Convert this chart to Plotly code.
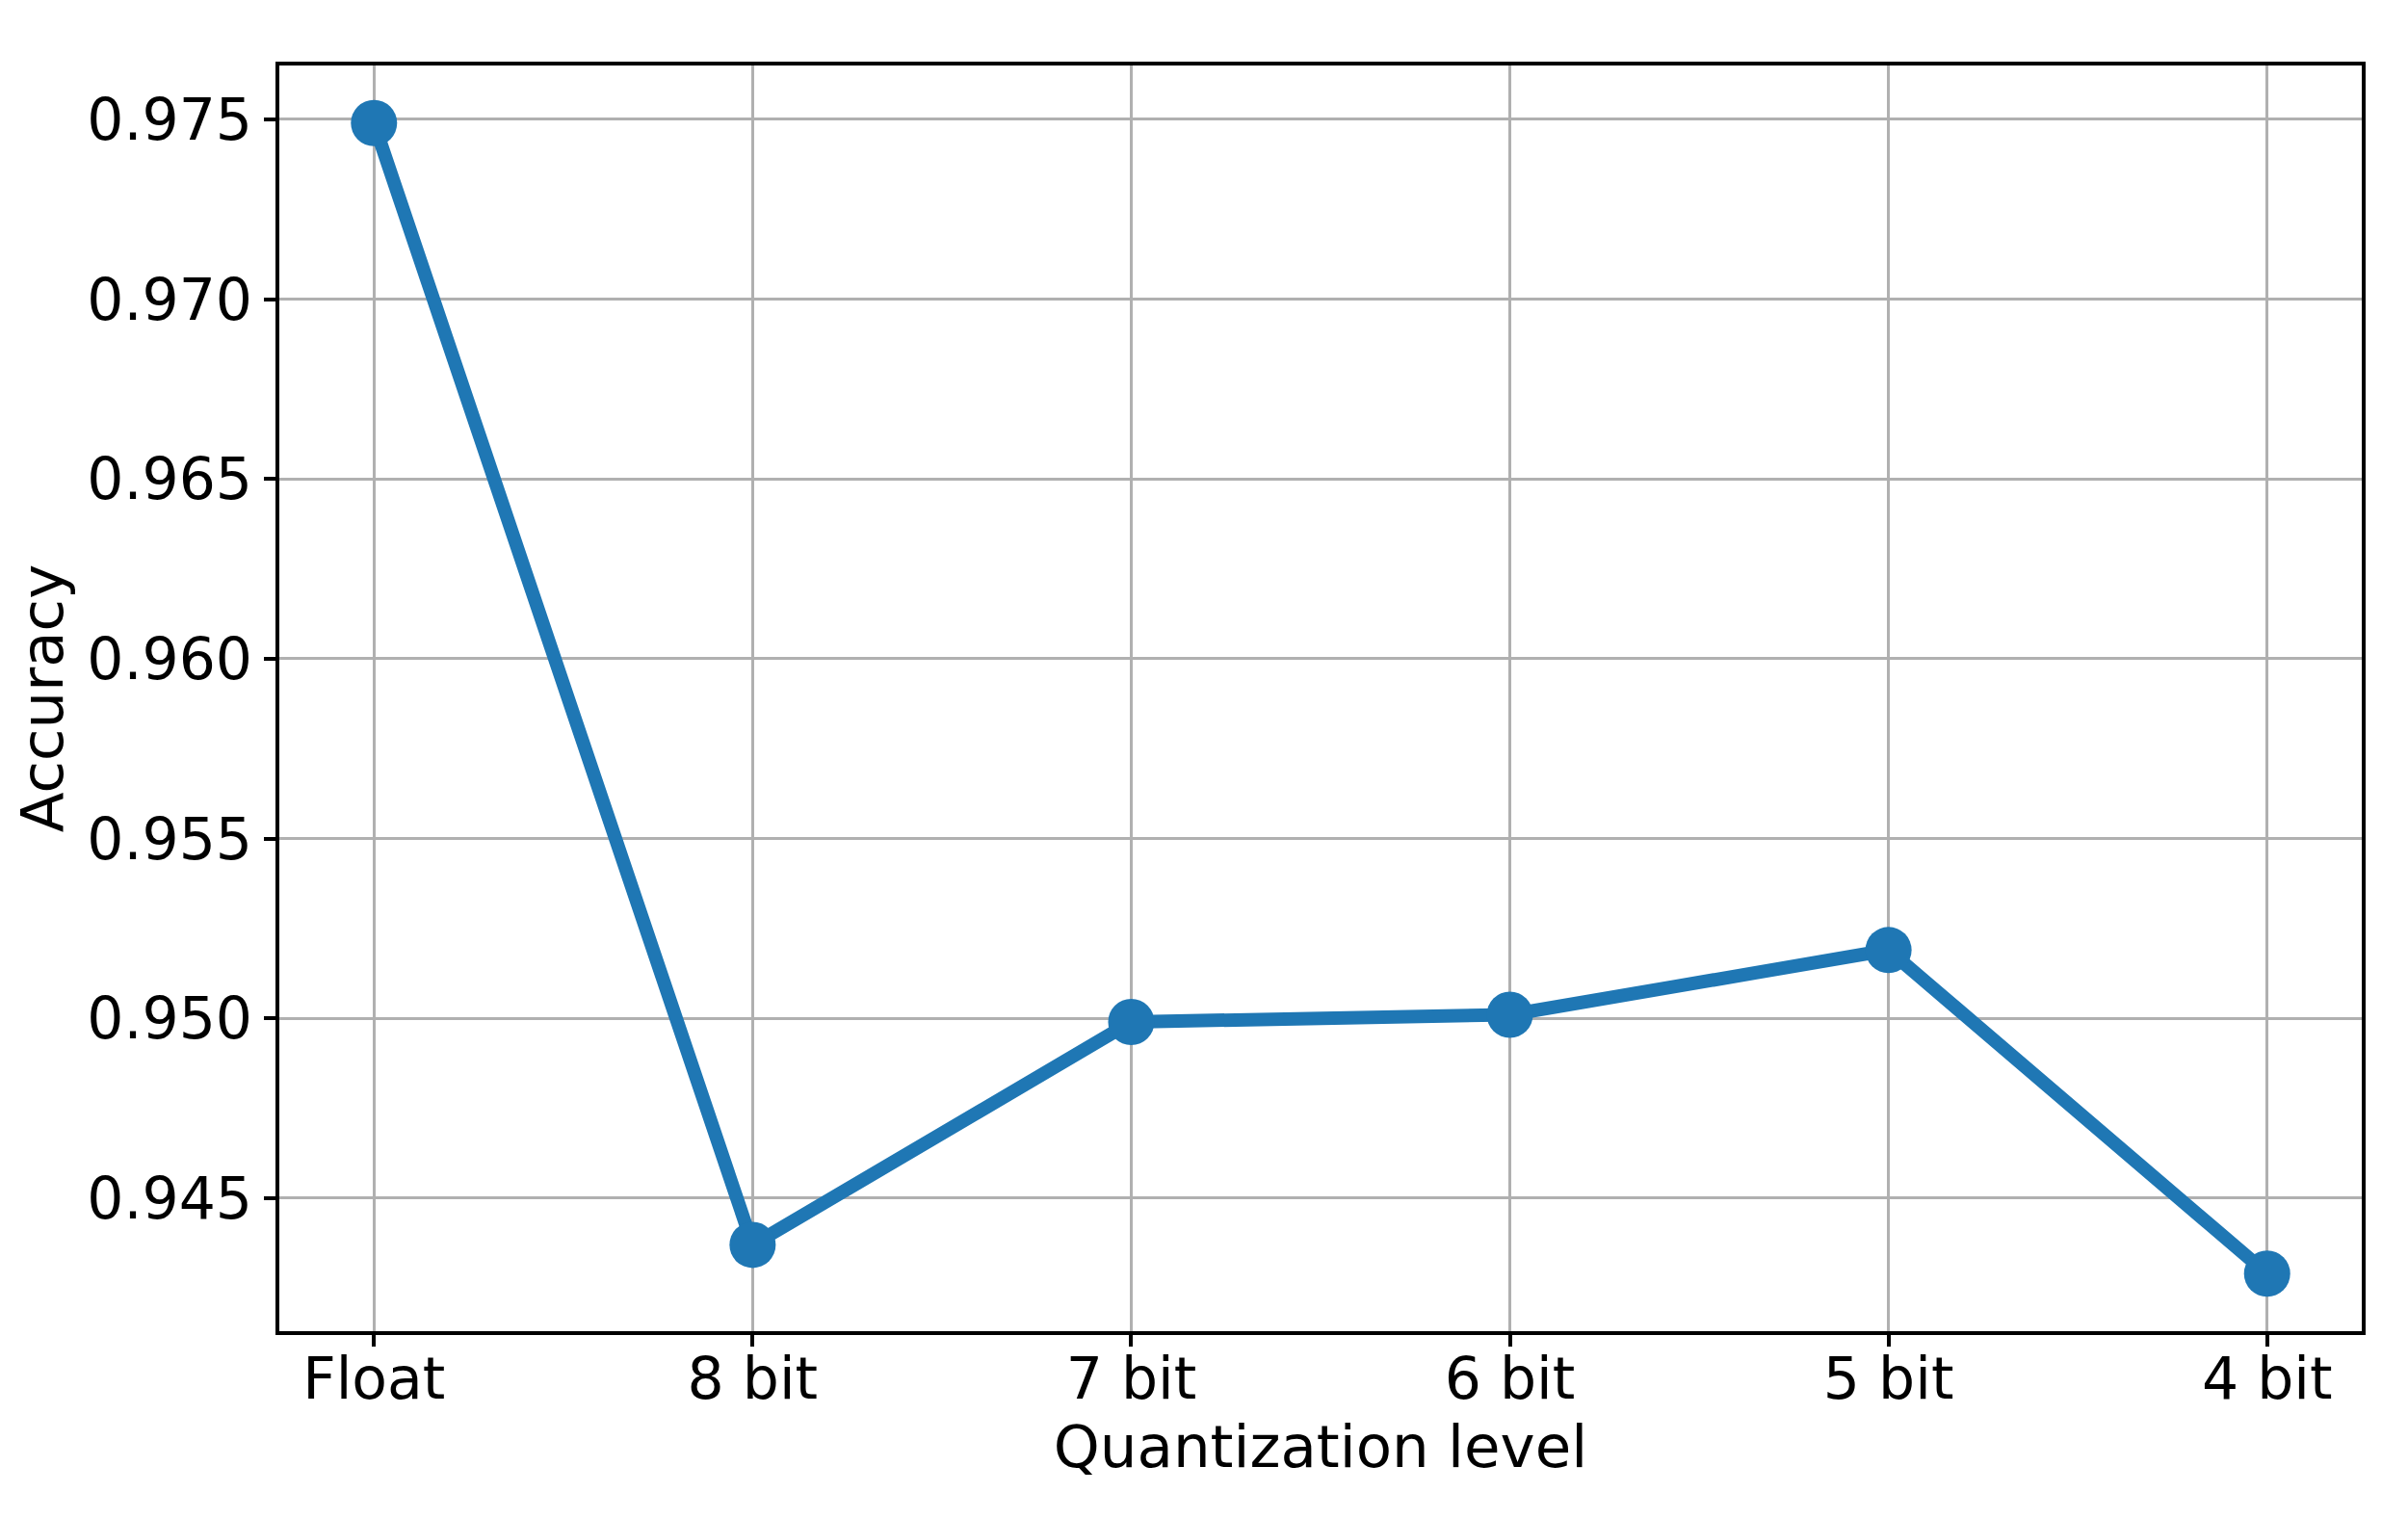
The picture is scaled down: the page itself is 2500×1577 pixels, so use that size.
import plotly.graph_objects as go

levels = ['Float', '8 bit', '7 bit', '6 bit', '5 bit', '4 bit']
accuracy = [0.9749, 0.9437, 0.9499, 0.9501, 0.9519, 0.9429]

# matplotlib-style 5% margins
lo, hi = min(accuracy), max(accuracy)
pad = (hi - lo) * 0.05
y_range = [lo - pad, hi + pad]

font = 'DejaVu Sans'

fig = go.Figure()
fig.add_trace(go.Scatter(
    x=levels, y=accuracy, mode='lines+markers',
    line=dict(color='#1f77b4', width=14),
    marker=dict(color='#1f77b4', size=48),
    showlegend=False,
))

fig.update_layout(
    width=2500, height=1577,
    margin=dict(l=290, r=48, t=68, b=195),
    plot_bgcolor='white', paper_bgcolor='white',
    font=dict(family=font, size=60, color='black'),
)
fig.update_xaxes(
    type='category', range=[-0.25, 5.25],
    showline=True, mirror=True, linecolor='black', linewidth=4,
    ticks='outside', ticklen=12, tickwidth=3.5, tickcolor='black',
    tickfont=dict(size=60), ticklabelstandoff=-18,
    showgrid=True, gridcolor='#b0b0b0', gridwidth=3.3,
    title=dict(text='Quantization level', font=dict(size=61), standoff=12),
    zeroline=False,
)
fig.update_yaxes(
    range=y_range, dtick=0.005, tick0=0.945, tickformat='.3f',
    showline=True, mirror=True, linecolor='black', linewidth=4,
    ticks='outside', ticklen=12, tickwidth=3.5, tickcolor='black',
    tickfont=dict(size=60),
    showgrid=True, gridcolor='#b0b0b0', gridwidth=3.3,
    title=dict(text='Accuracy', font=dict(size=61), standoff=6),
    zeroline=False,
)

fig.write_html('out.html', config={'displayModeBar': False},
               post_script="document.body.style.margin='0';")
